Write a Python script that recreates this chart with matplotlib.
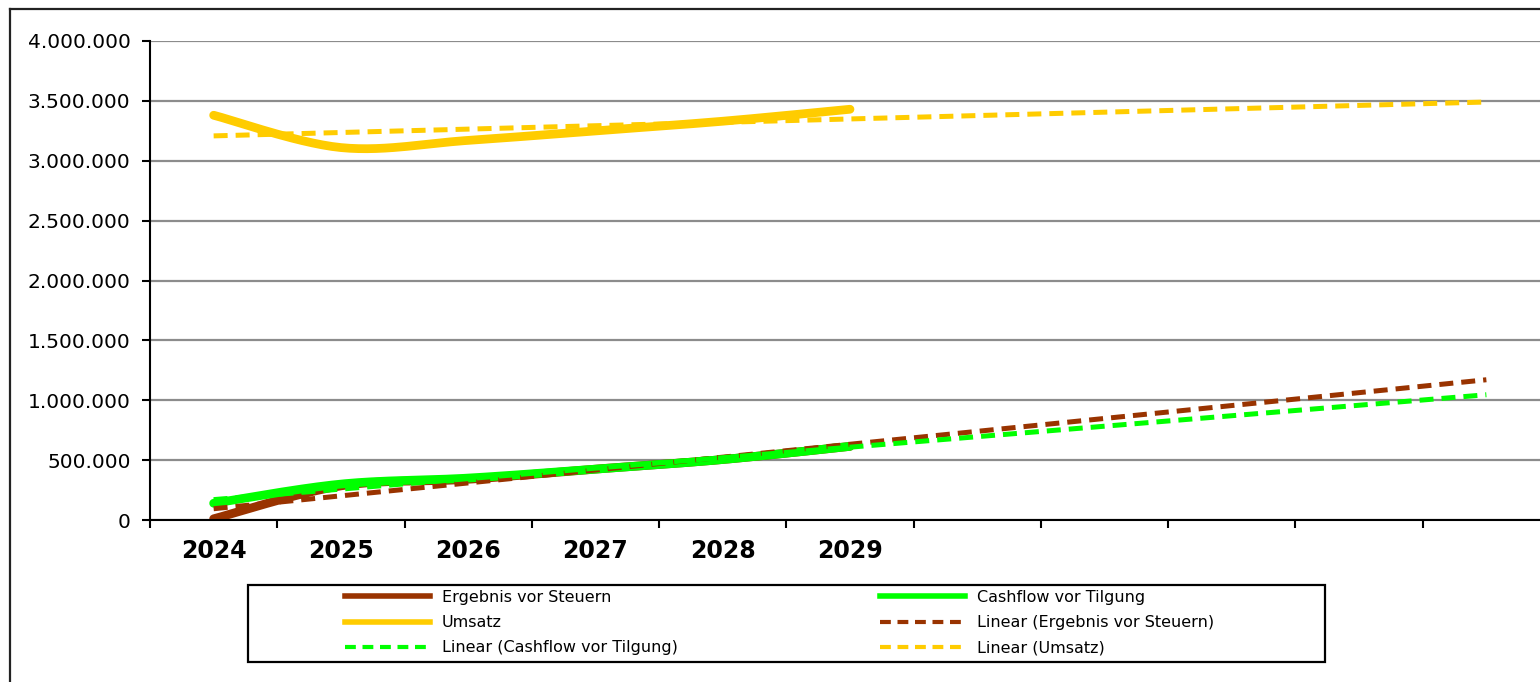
import numpy as np
import matplotlib
matplotlib.use("Agg")
import matplotlib.pyplot as plt
from matplotlib.lines import Line2D
from matplotlib.patches import Rectangle
from matplotlib.ticker import FuncFormatter

# data
years = ["2024", "2025", "2026", "2027", "2028", "2029"]
n_slots = 11  # category slots on the x axis (6 years + 5 forecast slots)
ergebnis = [10000, 285000, 340000, 425000, 505000, 615000]
cashflow = [140000, 300000, 350000, 425000, 505000, 615000]
umsatz = [3380000, 3110000, 3170000, 3250000, 3330000, 3430000]
forecast = 5  # trend line forward periods

names = ["Ergebnis vor Steuern", "Cashflow vor Tilgung", "Umsatz"]
colors = ["#993300", "#00ff00", "#ffcc00"]


def smooth(y, steps=30):
    """Excel style smoothed line (Catmull-Rom / bezier with tension 1/6)."""
    y = np.asarray(y, dtype=float)
    x = np.arange(len(y), dtype=float)
    px = np.concatenate([[x[0]], x, [x[-1]]])
    py = np.concatenate([[y[0]], y, [y[-1]]])
    xs, ys = [], []
    t = np.linspace(0, 1, steps)
    for i in range(1, len(px) - 2):
        p0 = np.array([px[i], py[i]])
        p3 = np.array([px[i + 1], py[i + 1]])
        p1 = p0 + (np.array([px[i + 1], py[i + 1]]) - np.array([px[i - 1], py[i - 1]])) / 6
        p2 = p3 - (np.array([px[i + 2], py[i + 2]]) - np.array([px[i], py[i]])) / 6
        b = ((1 - t) ** 3)[:, None] * p0 + (3 * (1 - t) ** 2 * t)[:, None] * p1 \
            + (3 * (1 - t) * t ** 2)[:, None] * p2 + (t ** 3)[:, None] * p3
        xs.extend(b[:, 0])
        ys.extend(b[:, 1])
    return np.array(xs), np.array(ys)


W, H = 1540, 682
fig = plt.figure(figsize=(W / 100, H / 100), dpi=100)
fig.patch.set_facecolor("white")

ax = fig.add_axes([150 / W, (H - 520) / H, 1400 / W, 479 / H])
ax.set_xlim(-0.5, n_slots - 0.5)
ax.set_ylim(0, 4000000)

series = [ergebnis, cashflow, umsatz]
for vals, c in zip(series, colors):
    sx, sy = smooth(vals)
    ax.plot(sx, sy, color=c, lw=6.3, solid_capstyle="round", zorder=3)

# linear trend lines, extended by the forecast periods
x_data = np.arange(len(years))
for vals, c in zip(series, colors):
    k, d = np.polyfit(x_data, vals, 1)
    xt = np.array([0, len(years) - 1 + forecast])
    ax.plot(xt, k * xt + d, color=c, lw=3.6, dashes=(2.8, 1.6),
            dash_capstyle="butt", zorder=4)

# axes styling
ax.set_yticks(np.arange(0, 4000001, 500000))
ax.yaxis.set_major_formatter(FuncFormatter(lambda v, p: f"{int(v):,}".replace(",", ".")))
ax.tick_params(axis="y", length=6, width=1.5, pad=8, labelsize=14.5, colors="black")
ax.grid(axis="y", color="#8c8c8c", lw=1.6, zorder=1)
ax.set_axisbelow(True)

ax.set_xticks(np.arange(-0.5, n_slots, 1.0))
ax.set_xticklabels([])
ax.tick_params(axis="x", which="major", length=6, width=1.5)
ax.set_xticks(x_data, minor=True)
ax.set_xticklabels(years, minor=True, fontsize=17, fontweight="bold")
ax.tick_params(axis="x", which="minor", length=0, pad=14)

for s in ["top", "right"]:
    ax.spines[s].set_visible(False)
for s in ["left", "bottom"]:
    ax.spines[s].set_linewidth(1.5)
    ax.spines[s].set_zorder(5)

# legend: two columns, drawn as two frameless legends inside one box
handles = [Line2D([], [], color=c, lw=4) for c in colors]
trend_handles = [Line2D([], [], color=c, lw=3, dashes=(2.6, 1.6)) for c in colors]
labels = names + [f"Linear ({n})" for n in names]
all_handles = handles + trend_handles
left_idx = [0, 2, 4]
right_idx = [1, 3, 5]

leg_kw = dict(frameon=False, fontsize=11.5, handlelength=5.3, handletextpad=0.75,
              labelspacing=0.64, borderpad=0, borderaxespad=0, loc="upper left")
leg1 = fig.legend([all_handles[i] for i in left_idx], [labels[i] for i in left_idx],
                  bbox_to_anchor=(345 / W, (H - 590) / H), **leg_kw)
leg2 = fig.legend([all_handles[i] for i in right_idx], [labels[i] for i in right_idx],
                  bbox_to_anchor=(880 / W, (H - 590) / H), **leg_kw)

fig.patches.append(Rectangle((248 / W, (H - 662) / H), 1077 / W, 77 / H,
                             transform=fig.transFigure, fill=False,
                             edgecolor="black", lw=1.6))

# outer chart frame (only top and left edges lie inside the picture)
fig.lines.append(Line2D([10 / W, 10 / W], [0, (H - 9) / H], transform=fig.transFigure,
                        color="#222222", lw=1.6))
fig.lines.append(Line2D([10 / W, 1], [(H - 9) / H, (H - 9) / H], transform=fig.transFigure,
                        color="#222222", lw=1.6))

fig.savefig("out.png", dpi=100)
